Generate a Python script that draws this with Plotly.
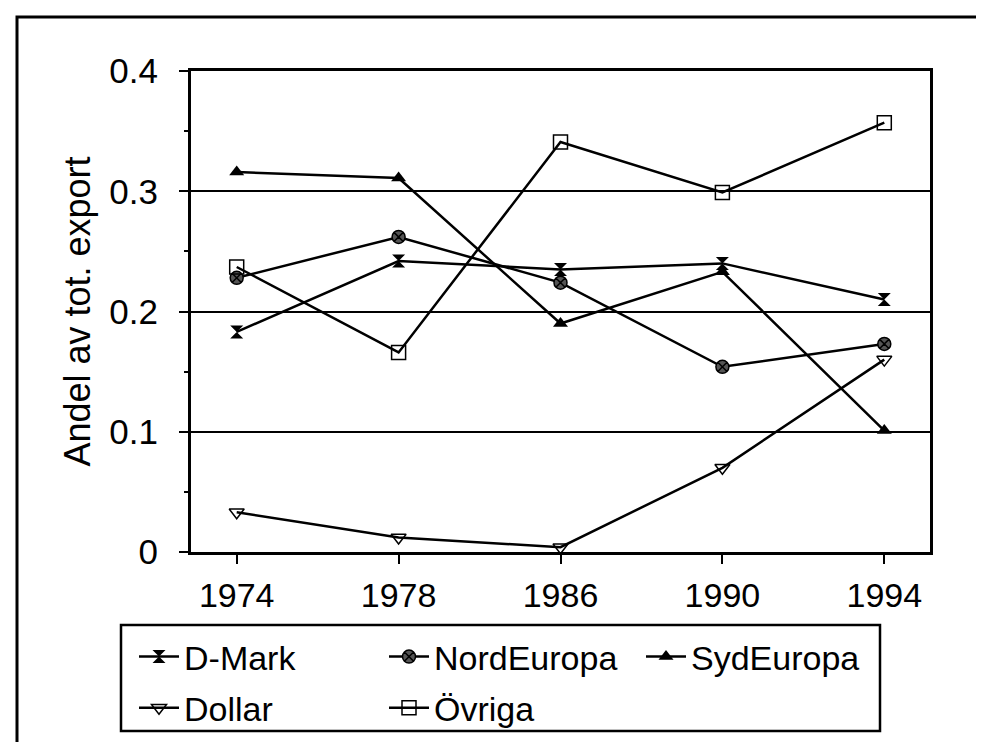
import plotly.graph_objects as go

years = ["1974", "1978", "1986", "1990", "1994"]
d_mark = [0.183, 0.242, 0.235, 0.240, 0.210]
nord_europa = [0.228, 0.262, 0.224, 0.154, 0.173]
syd_europa = [0.316, 0.311, 0.190, 0.233, 0.101]
dollar = [0.033, 0.012, 0.004, 0.070, 0.160]
ovriga = [0.237, 0.166, 0.341, 0.299, 0.357]
y_ticks = [0, 0.1, 0.2, 0.3, 0.4]
y_ticktext = ["0", "0.1", "0.2", "0.3", "0.4"]

FONT = "Arial, Liberation Sans, sans-serif"
W, H = 984, 742
L, R, T, B = 183, 922, 63, 544  # plot area pixel bounds


def px_x(p):
    return (p - L) / (R - L)


def px_y(p):
    return (B - p) / (B - T)


series = [
    ("D-Mark", d_mark, dict(symbol="hourglass", size=13, color="black"), "legend"),
    ("NordEuropa", nord_europa, dict(symbol="circle-x", size=13, color="#555",
                                     line=dict(color="black", width=1.5)), "legend2"),
    ("SydEuropa", syd_europa, dict(symbol="triangle-up", size=13, color="black"), "legend3"),
    ("Dollar", dollar, dict(symbol="triangle-down-open", size=13, color="black",
                            line=dict(width=1.5)), "legend"),
    ("Övriga", ovriga, dict(symbol="square-open", size=14, color="black",
                           line=dict(width=1.5)), "legend2"),
]

fig = go.Figure()
for name, vals, marker, leg in series:
    fig.add_trace(go.Scatter(
        x=years, y=vals, name=name, mode="lines+markers",
        line=dict(color="black", width=2.5), marker=marker,
        legend=leg, legendgroup=name,
    ))

leg_common = dict(
    font=dict(family=FONT, size=34, color="black"),
    bgcolor="rgba(0,0,0,0)", borderwidth=0,
    xanchor="left", yanchor="top", tracegroupgap=4,
    itemwidth=40,
)
y_leg = px_y(620)
fig.update_layout(
    legend=dict(x=px_x(126), y=y_leg, **leg_common),
    legend2=dict(x=px_x(376), y=y_leg, **leg_common),
    legend3=dict(x=px_x(633), y=y_leg, **leg_common),
)

fig.update_layout(
    width=W, height=H,
    margin=dict(l=L, r=W - R, t=T, b=H - B, autoexpand=False),
    paper_bgcolor="white", plot_bgcolor="white",
    font=dict(family=FONT, size=34, color="black"),
    showlegend=True,
)

fig.update_xaxes(
    type="category", showline=True, linecolor="black", linewidth=3,
    mirror=True, ticks="outside", ticklen=9, tickwidth=2, tickcolor="black",
    showgrid=False, tickfont=dict(family=FONT, size=34), ticklabelstandoff=2,
)
fig.update_yaxes(
    range=[0, 0.4], tickvals=y_ticks, ticktext=y_ticktext,
    showline=True, linecolor="black", linewidth=3, mirror=True,
    ticks="outside", ticklen=9, tickwidth=2, tickcolor="black",
    minor=dict(dtick=0.05, ticks="outside", ticklen=4, tickwidth=2, tickcolor="black"),
    showgrid=True, gridcolor="black", gridwidth=2, zeroline=False,
    tickfont=dict(family=FONT, size=35), ticklabelstandoff=14,
    title=dict(text="Andel av tot. export", font=dict(family=FONT, size=36), standoff=8),
)

# outer frame
fig.add_shape(type="rect", xref="paper", yref="paper",
              x0=px_x(9), x1=px_x(980), y0=px_y(738), y1=px_y(9),
              line=dict(color="black", width=3), layer="below")
# legend box
fig.add_shape(type="rect", xref="paper", yref="paper",
              x0=px_x(113), x1=px_x(872), y0=px_y(723), y1=px_y(617),
              line=dict(color="black", width=2.5), layer="below")

fig.write_html("out.html")
